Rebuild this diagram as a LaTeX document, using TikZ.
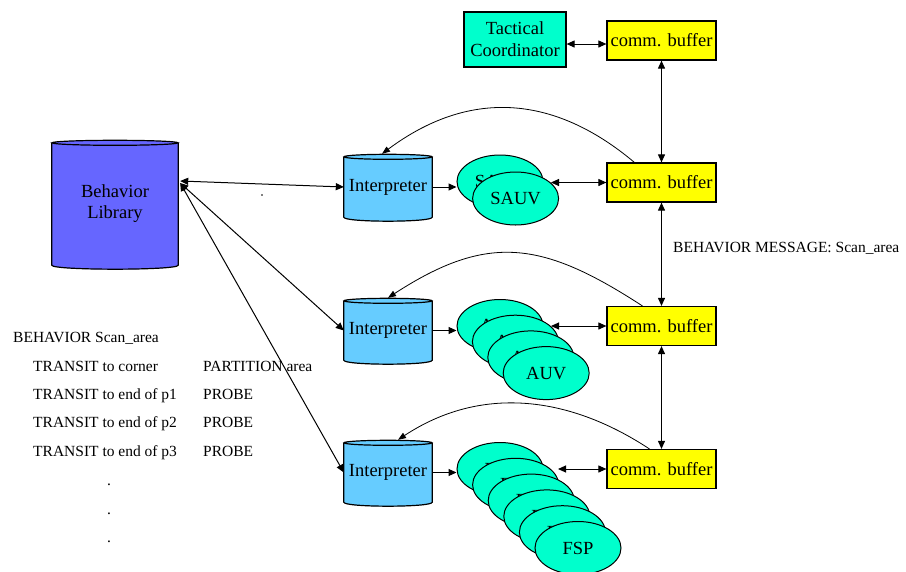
\documentclass[tikz,border=0pt]{standalone}
\usepackage{fontspec}
\setmainfont{Liberation Serif}
\usetikzlibrary{arrows.meta,calc,shapes.geometric}
\definecolor{libblue}{RGB}{102,102,255}
\definecolor{intblue}{RGB}{102,204,255}
\definecolor{tealc}{RGB}{0,255,204}
\definecolor{bufy}{RGB}{255,255,0}
\tikzset{
  boxbase/.style={draw=black, line width=1.2pt, inner sep=0pt, align=center, font=\fontsize{18.5}{22}\selectfont},
  buffer/.style={boxbase, fill=bufy, minimum width=109pt, minimum height=39pt},
  coordbox/.style={boxbase, fill=tealc, minimum width=102pt, minimum height=55pt, font=\fontsize{18.5}{22}\selectfont},
  cylbody/.style={draw=none, inner sep=0pt, align=center, font=\fontsize{18.5}{21}\selectfont},
  veh/.style={ellipse, draw=black, fill=tealc, line width=1pt, minimum width=86pt, minimum height=53pt, inner sep=0pt, font=\fontsize{18.5}{22}\selectfont},
  arr/.style={line width=1pt, -{Triangle[length=8pt,width=7pt]}},
  darr/.style={line width=1pt, {Triangle[length=8pt,width=7pt]}-{Triangle[length=8pt,width=7pt]}},
  curv/.style={line width=0.8pt, -{Triangle[length=8pt,width=6pt]}},
  txt/.style={anchor=base west, inner sep=0pt, font=\fontsize{15.5}{18}\selectfont}
}
\begin{document}
\begin{tikzpicture}[x=1pt,y=-1pt]
\useasboundingbox (0,0) rectangle (906,571);
\fill[white] (0,0) rectangle (906,571);

% cylinders
\node[cylbody, fill=libblue, minimum width=126pt, minimum height=122pt] (lib) at (115,204) {Behavior\\Library};
\node[cylbody, fill=intblue, minimum width=88pt, minimum height=60pt] (i1) at (388,187) {Interpreter};
\node[cylbody, fill=intblue, minimum width=88pt, minimum height=59pt] (i2) at (388,330.5) {Interpreter};
\node[cylbody, fill=intblue, minimum width=88pt, minimum height=59pt] (i3) at (388,472.5) {Interpreter};
\foreach \n/\c/\r in {lib/libblue/63, i1/intblue/44, i2/intblue/44, i3/intblue/44} {
  \fill[\c] (\n.south west) .. controls +(0,5.3) and +(0,5.3) .. (\n.south east) -- cycle;
  \draw[line width=1.2pt] (\n.north west) -- (\n.south west) .. controls +(0,5.3) and +(0,5.3) .. (\n.south east) -- (\n.north east);
  \filldraw[fill=\c, line width=1.2pt] (\n.north) ellipse [x radius=\r, y radius=2.5];
}

% boxes
\node[coordbox] (tc) at (515,39.5) {Tactical\\Coordinator};
\node[buffer] (b1) at (661.5,40.5) {comm. buffer};
\node[buffer] (b2) at (661.5,182.5) {comm. buffer};
\node[buffer] (b3) at (661.5,326) {comm. buffer};
\node[buffer] (b4) at (661.5,469) {comm. buffer};

% vehicles
\node[veh] (s1) at (500,181.5) {SAUV};
\node[veh] (s2) at (515.6,198.5) {SAUV};
\foreach \k in {1,...,4} {
  \node[veh] (a\k) at ({500+15.4*(\k-1)},{326+15.7*(\k-1)}) {AUV};
}
\foreach \k in {1,...,6} {
  \node[veh] (f\k) at ({500+15.6*(\k-1)},{469+15.8*(\k-1)}) {FSP};
}

% library connectors
\draw[darr] ($(lib.east)+(2,-23)$) -- (i1.west);
\draw[darr] ($(lib.east)+(2,-21)$) -- (i2.west);
\draw[darr] ($(lib.east)+(2,-21)$) -- (i3.west);
\fill (262,195) circle [radius=0.9];

% interpreter to vehicles
\draw[arr] (i1.east) -- (i1.east -| s1.west);
\draw[arr] (i2.east) -- (i2.east -| a1.west);
\draw[arr] (i3.east) -- (i3.east -| f1.west);

% vehicles to buffers
\coordinate (t1) at (551,182.5);
\coordinate (t2) at (551,326);
\coordinate (t3) at (558,469);
\draw[darr] (t1) -- (b2.west);
\draw[darr] (t2) -- (b3.west);
\draw[darr] (t3) -- (b4.west);

% buffer chain
\draw[darr] ($(tc.east)+(0,4.5)$) -- ($(b1.west)+(0,3.5)$);
\draw[darr] (b1.south) -- (b2.north);
\draw[darr] (b2.south) -- (b3.north);
\draw[darr] (b3.south) -- (b4.north);

% curved feedback arrows
\draw[curv] ($(b2.north west)+(28,0)$) .. controls +(-82,-69) and +(86,-64) .. ($(i1.north)+(-6,-3)$);
\draw[curv] ($(b3.north west)+(36,0)$) .. controls +(-100,-65) and +(100,-65) .. ($(i2.north)+(0,-3)$);
\draw[curv] ($(b4.north west)+(43,0)$) .. controls +(-82,-54) and +(82,-54) .. ($(i3.north)+(10,-3)$);

% texts
\node[txt] (msg) at (673,252) {BEHAVIOR MESSAGE: Scan\_area};
\node[txt] (h0) at (13,342) {BEHAVIOR Scan\_area};
\node[txt] (l1) at (33,371) {TRANSIT to corner};
\node[txt] (r1) at (203,371) {PARTITION area};
\node[txt] (l2) at (33,399) {TRANSIT to end of p1};
\node[txt] (r2) at (203,399) {PROBE};
\node[txt] (l3) at (33,427) {TRANSIT to end of p2};
\node[txt] (r3) at (203,427) {PROBE};
\node[txt] (l4) at (33,456) {TRANSIT to end of p3};
\node[txt] (r4) at (203,456) {PROBE};
\node[txt] (d1) at (107,485) {.};
\node[txt] (d2) at (107,514) {.};
\node[txt] (d3) at (107,542) {.};
\end{tikzpicture}
\end{document}
